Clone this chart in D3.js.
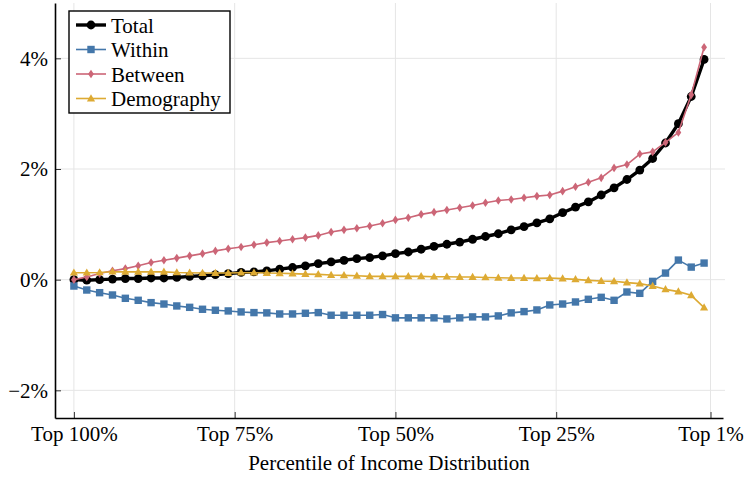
<!DOCTYPE html>
<html>
<head>
<meta charset="utf-8">
<script src="https://cdn.jsdelivr.net/npm/d3@7/dist/d3.min.js"></script>
<style>
  html, body { margin: 0; padding: 0; background: #fff; }
  svg text { font-family: "Liberation Serif", "DejaVu Serif", serif; fill: #000; }
</style>
</head>
<body>
<svg id="chart" width="747" height="480"></svg>
<script>
// Percentile groups, from the whole distribution (Top 100%) to the top 2%
const percentiles = [100, 98, 96, 94, 92, 90, 88, 86, 84, 82,
                     80, 78, 76, 74, 72, 70, 68, 66, 64, 62,
                     60, 58, 56, 54, 52, 50, 48, 46, 44, 42,
                     40, 38, 36, 34, 32, 30, 28, 26, 24, 22,
                     20, 18, 16, 14, 12, 10, 8, 6, 4, 2];

// Contributions, in percent
const total = [0.00, -0.01, 0.00, 0.01, 0.02, 0.02, 0.03, 0.03, 0.04, 0.06,
               0.07, 0.09, 0.11, 0.13, 0.14, 0.16, 0.19, 0.22, 0.25, 0.29,
               0.32, 0.35, 0.38, 0.40, 0.43, 0.47, 0.50, 0.55, 0.60, 0.64,
               0.68, 0.73, 0.78, 0.83, 0.90, 0.96, 1.025, 1.10, 1.21, 1.31,
               1.405, 1.53, 1.66, 1.81, 1.98, 2.19, 2.47, 2.82, 3.31, 3.98];

const within = [-0.115, -0.187, -0.235, -0.277, -0.337, -0.373, -0.415, -0.44, -0.475, -0.50,
                -0.535, -0.553, -0.565, -0.583, -0.595, -0.60, -0.62, -0.62, -0.607, -0.595,
                -0.643, -0.643, -0.643, -0.643, -0.63, -0.69, -0.69, -0.69, -0.69, -0.71,
                -0.69, -0.673, -0.673, -0.655, -0.60, -0.577, -0.547, -0.457, -0.44, -0.403,
                -0.355, -0.319, -0.373, -0.223, -0.247, -0.031, 0.119, 0.354, 0.227, 0.30];

const between = [0.00, 0.05, 0.11, 0.16, 0.20, 0.25, 0.31, 0.35, 0.39, 0.43,
                 0.47, 0.52, 0.56, 0.59, 0.63, 0.67, 0.70, 0.73, 0.76, 0.80,
                 0.86, 0.90, 0.93, 0.97, 1.02, 1.08, 1.12, 1.18, 1.22, 1.26,
                 1.30, 1.34, 1.39, 1.43, 1.45, 1.48, 1.51, 1.53, 1.60, 1.68,
                 1.76, 1.84, 2.02, 2.08, 2.27, 2.31, 2.48, 2.66, 3.34, 4.20];

const demography = [0.126, 0.126, 0.13, 0.144, 0.14, 0.14, 0.14, 0.14, 0.13, 0.126,
                    0.12, 0.12, 0.12, 0.126, 0.126, 0.12, 0.115, 0.11, 0.10, 0.095,
                    0.083, 0.077, 0.07, 0.06, 0.06, 0.06, 0.06, 0.06, 0.054, 0.054,
                    0.047, 0.047, 0.04, 0.035, 0.03, 0.03, 0.023, 0.03, 0.018, 0.005,
                    -0.012, -0.025, -0.03, -0.054, -0.072, -0.115, -0.175, -0.216, -0.283, -0.505];

const xTickValues = [100, 75, 50, 25, 1];
const xTickLabels = ["Top 100%", "Top 75%", "Top 50%", "Top 25%", "Top 1%"];
const yTickValues = [-2, 0, 2, 4];
const yTickLabels = ["\u22122%", "0%", "2%", "4%"];
const seriesNames = ["Total", "Within", "Between", "Demography"];
const xTitle = "Percentile of Income Distribution";

const FONT = "Liberation Serif";
const FONT_SIZE = 21;

const svg = d3.select("#chart");
const plotLeft = 55, plotRight = 723, plotTop = 3, plotBottom = 418;

const x = d3.scaleLinear().domain([102.94, -0.94]).range([plotLeft, plotRight]);
const y = d3.scaleLinear().domain([-2.5, 5]).range([plotBottom, plotTop]);

// grid
const grid = svg.append("g").attr("stroke", "#e5e5e5").attr("stroke-width", 1);
xTickValues.forEach(v => grid.append("line")
  .attr("x1", x(v)).attr("x2", x(v)).attr("y1", plotTop).attr("y2", plotBottom));
yTickValues.forEach(v => grid.append("line")
  .attr("x1", plotLeft).attr("x2", plotRight + 2).attr("y1", y(v)).attr("y2", y(v)));

// axes (ticks pointing inward)
const xAxis = d3.axisBottom(x).tickValues(xTickValues)
  .tickFormat((d, i) => xTickLabels[i]).tickSizeInner(-6).tickSizeOuter(0).tickPadding(8);
const gx = svg.append("g").attr("transform", `translate(0,${plotBottom})`).call(xAxis);
gx.select(".domain").attr("stroke", "#000").attr("stroke-width", 1.6);
gx.selectAll(".tick line").attr("stroke", "#000").attr("stroke-width", 0.8);
gx.selectAll(".tick text").attr("font-size", FONT_SIZE).attr("font-family", FONT);

const yAxis = d3.axisLeft(y).tickValues(yTickValues)
  .tickFormat((d, i) => yTickLabels[i]).tickSizeInner(-6).tickSizeOuter(0).tickPadding(7);
const gy = svg.append("g").attr("transform", `translate(${plotLeft},0)`).call(yAxis);
gy.select(".domain").attr("stroke", "#000").attr("stroke-width", 1.6);
gy.selectAll(".tick line").attr("stroke", "#000").attr("stroke-width", 0.8);
gy.selectAll(".tick text").attr("font-size", FONT_SIZE).attr("font-family", FONT);

svg.append("text").attr("x", (plotLeft + plotRight) / 2).attr("y", 470)
  .attr("text-anchor", "middle").attr("font-size", FONT_SIZE).attr("font-family", FONT).text(xTitle);

// marker shapes
function drawMarker(g, shape, cx, cy, color) {
  if (shape === "circle") {
    g.append("circle").attr("cx", cx).attr("cy", cy).attr("r", 4.4).attr("fill", color);
  } else if (shape === "square") {
    g.append("rect").attr("x", cx - 3.7).attr("y", cy - 3.7).attr("width", 7.4).attr("height", 7.4)
      .attr("fill", color);
  } else if (shape === "diamond") {
    g.append("path").attr("d", `M${cx},${cy - 4.3}L${cx + 2.9},${cy}L${cx},${cy + 4.3}L${cx - 2.9},${cy}Z`)
      .attr("fill", color);
  } else if (shape === "triangle") {
    g.append("path").attr("d", `M${cx},${cy - 4.3}L${cx + 4.1},${cy + 2.9}L${cx - 4.1},${cy + 2.9}Z`)
      .attr("fill", color);
  }
}

const series = [
  { name: seriesNames[0], values: total,      color: "#000000", width: 3.4, shape: "circle" },
  { name: seriesNames[1], values: within,     color: "#4477aa", width: 1.6, shape: "square" },
  { name: seriesNames[2], values: between,    color: "#cc6677", width: 1.6, shape: "diamond" },
  { name: seriesNames[3], values: demography, color: "#ddaa33", width: 1.6, shape: "triangle" }
];

const line = d3.line().x(d => x(d[0])).y(d => y(d[1]));
series.forEach(s => {
  const pts = percentiles.map((p, i) => [p, s.values[i]]);
  const g = svg.append("g");
  g.append("path").datum(pts).attr("d", line).attr("fill", "none")
    .attr("stroke", s.color).attr("stroke-width", s.width).attr("stroke-linejoin", "round");
  pts.forEach(d => drawMarker(g, s.shape, x(d[0]), y(d[1]), s.color));
});

// legend
const lg = svg.append("g");
lg.append("rect").attr("x", 69).attr("y", 11).attr("width", 161).attr("height", 102)
  .attr("fill", "#fff").attr("stroke", "#000").attr("stroke-width", 1.4);
series.forEach((s, i) => {
  const ly = 25 + i * 24.5;
  lg.append("line").attr("x1", 76).attr("x2", 106).attr("y1", ly).attr("y2", ly)
    .attr("stroke", s.color).attr("stroke-width", s.width);
  drawMarker(lg, s.shape, 91, ly, s.color);
  lg.append("text").attr("x", 111).attr("y", ly + 7.5).attr("font-size", FONT_SIZE)
    .attr("font-family", FONT).text(s.name);
});
</script>
</body>
</html>
